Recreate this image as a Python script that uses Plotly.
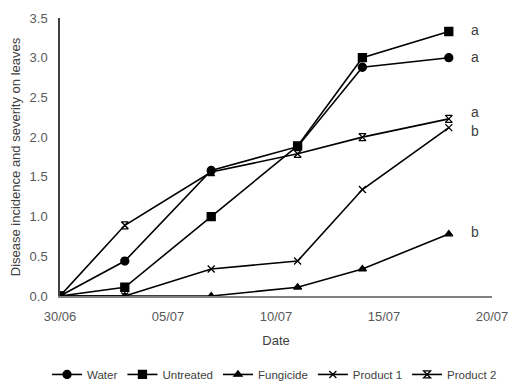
import plotly.graph_objects as go

dates = ["2019-06-30", "2019-07-03", "2019-07-07", "2019-07-11", "2019-07-14", "2019-07-18"]
water = [0, 0.44, 1.58, 1.88, 2.88, 3.0]
untreated = [0, 0.11, 1.0, 1.89, 3.0, 3.33]
fungicide = [0, 0, 0, 0.11, 0.34, 0.78]
product1 = [0, 0, 0.34, 0.44, 1.34, 2.12]
product2 = [0, 0.89, 1.56, 1.79, 2.0, 2.23]

series = [
    ("Water", water, "circle"),
    ("Untreated", untreated, "square"),
    ("Fungicide", fungicide, "triangle-up"),
    ("Product 1", product1, "x-thin-open"),
    ("Product 2", product2, "hourglass-open"),
]

letters = ["a", "a", "b", "b", "a"]
letter_y = [3.0, 3.34, 0.79, 2.06, 2.30]

fig = go.Figure()
for name, vals, sym in series:
    fig.add_trace(go.Scatter(
        x=dates, y=vals, name=name, mode="lines+markers",
        line=dict(color="black", width=1.6),
        marker=dict(symbol=sym, size=8 if sym in ("circle", "square") else 7,
                    color="black", line=dict(color="black", width=1.3)),
    ))

for lt, ly in zip(letters, letter_y):
    fig.add_annotation(x="2019-07-18", y=ly, text=lt, showarrow=False,
                       xanchor="left", xshift=20, yshift=1,
                       font=dict(size=14, color="#404040"))

fig.update_layout(
    width=517, height=381,
    margin=dict(l=60, r=25, t=18, b=85, autoexpand=False),
    paper_bgcolor="white", plot_bgcolor="white",
    font=dict(family="Liberation Sans, Arial, sans-serif", color="#404040", size=12),
    showlegend=True,
    legend=dict(orientation="h", x=-0.03, xanchor="left",
                y=-0.23, yanchor="top",
                font=dict(size=11.5, color="#404040"), itemwidth=30,
                tracegroupgap=0),
)
fig.update_xaxes(
    type="date", range=["2019-06-30", "2019-07-20"], dtick=5 * 86400000,
    tick0="2019-06-30", tickformat="%d/%m", showgrid=False, showline=True,
    linecolor="#808080", linewidth=1.5, zeroline=False, ticks="",
    ticklabelstandoff=8,
    title=dict(text="Date", font=dict(size=13, color="#404040"), standoff=13),
    tickfont=dict(size=13, color="#595959"),
)
fig.update_yaxes(
    range=[0, 3.5], dtick=0.5, tickformat=".1f", showgrid=False, showline=True,
    linecolor="#404040", linewidth=1.5, zeroline=False, ticks="",
    ticklabelstandoff=8,
    title=dict(text="Disease incidence and severity on leaves",
               font=dict(size=13, color="#404040"), standoff=6),
    tickfont=dict(size=13, color="#595959"),
)

fig.write_html("out.html")
